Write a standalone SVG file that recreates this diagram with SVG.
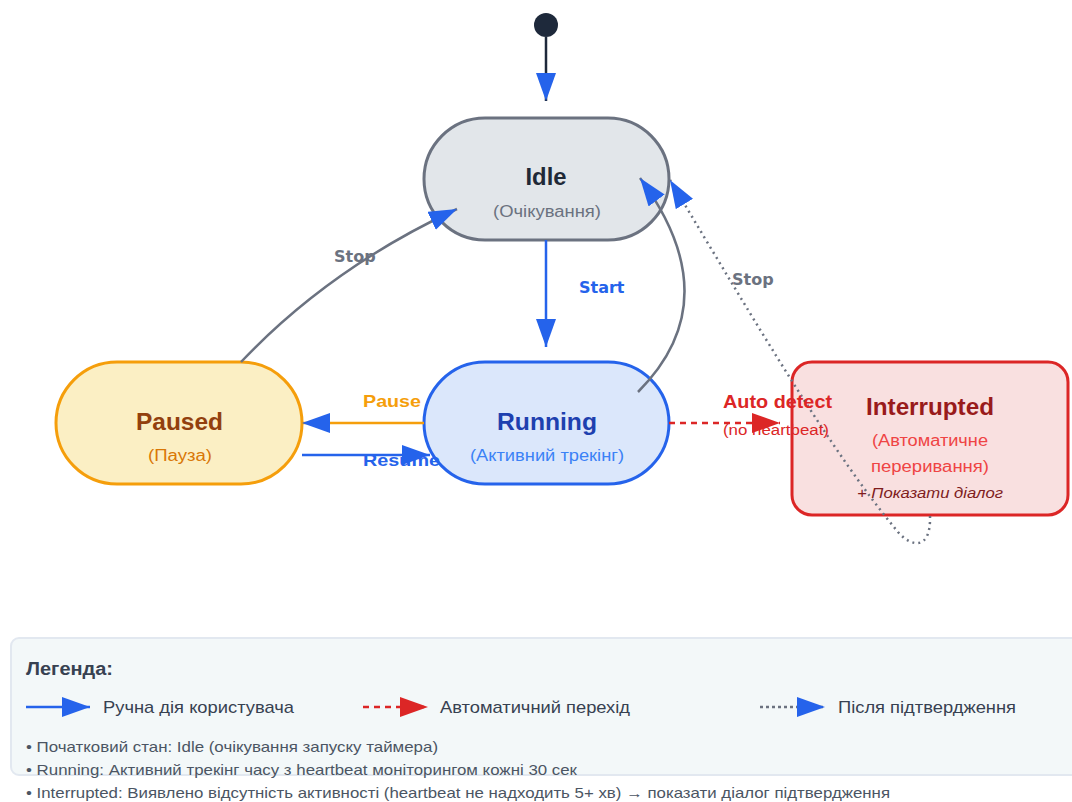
<svg xmlns="http://www.w3.org/2000/svg" width="1072" height="802" viewBox="0 0 1072 802">
  <style>
    .sans { font-family: "Liberation Sans", Arial, sans-serif; }
    .title { font-family: "Liberation Sans", Arial, sans-serif; font-weight: bold; font-size: 23px; text-anchor: middle; }
    .sub { font-family: "Liberation Sans", Arial, sans-serif; font-size: 16px; text-anchor: middle; }
    .elabel { font-family: "DejaVu Sans", Verdana, sans-serif; font-weight: bold; font-size: 16px; }
    .alabel { font-family: "Liberation Sans", Arial, sans-serif; font-weight: bold; font-size: 18px; }
    .legend-text { font-family: "Liberation Sans", Arial, sans-serif; font-size: 17px; fill: #374151; }
    .note { font-family: "Liberation Sans", Arial, sans-serif; font-size: 14.5px; fill: #4b5563; }
  </style>
  <defs>
    <marker id="arrowBlue" markerUnits="userSpaceOnUse" markerWidth="28" markerHeight="20" viewBox="0 0 28 20" refX="28" refY="10" orient="auto">
      <path d="M0,0 L28,10 L0,20 z" fill="#2563eb"/>
    </marker>
    <marker id="arrowRed" markerUnits="userSpaceOnUse" markerWidth="28" markerHeight="20" viewBox="0 0 28 20" refX="28" refY="10" orient="auto">
      <path d="M0,0 L28,10 L0,20 z" fill="#dc2626"/>
    </marker>
  </defs>

  <rect width="1072" height="802" fill="#ffffff"/>

  <!-- initial pseudo-state -->
  <g id="initial">
    <circle cx="546" cy="25" r="12" fill="#1e293b"/>
  </g>

  <!-- states -->
  <g id="idle">
    <rect x="424" y="118" width="245" height="122" rx="61" fill="#e2e6ea" stroke="#6b7280" stroke-width="3"/>
    <text class="title" x="546" y="185" fill="#1f2937" textLength="41" lengthAdjust="spacingAndGlyphs">Idle</text>
    <text class="sub" x="547" y="217" fill="#6b7280" textLength="108" lengthAdjust="spacingAndGlyphs">(Очікування)</text>
  </g>

  <g id="running">
    <rect x="424" y="362" width="245" height="122" rx="61" fill="#dbe7fb" stroke="#2563eb" stroke-width="3"/>
    <text class="title" x="547" y="430" fill="#1e40af" textLength="100" lengthAdjust="spacingAndGlyphs">Running</text>
    <text class="sub" x="547" y="461" fill="#3b82f6" textLength="154" lengthAdjust="spacingAndGlyphs">(Активний трекінг)</text>
  </g>

  <g id="paused">
    <rect x="56" y="362" width="246" height="122" rx="61" fill="#fbefc4" stroke="#f59e0b" stroke-width="3"/>
    <text class="title" x="179.5" y="430" fill="#92400e" textLength="87" lengthAdjust="spacingAndGlyphs">Paused</text>
    <text class="sub" x="180" y="461" fill="#d97706" textLength="64" lengthAdjust="spacingAndGlyphs">(Пауза)</text>
  </g>

  <g id="interrupted">
    <rect x="792" y="362" width="276" height="153" rx="20" fill="#f9e0e0" stroke="#dc2626" stroke-width="3"/>
    <text class="title" x="930" y="415" fill="#991b1b" textLength="128" lengthAdjust="spacingAndGlyphs">Interrupted</text>
    <text class="sub" x="930" y="446" fill="#ef4444" textLength="116" lengthAdjust="spacingAndGlyphs">(Автоматичне</text>
    <text class="sub" x="930" y="472" fill="#ef4444" textLength="118" lengthAdjust="spacingAndGlyphs">переривання)</text>
    <text class="sans" x="930" y="498" font-size="15" font-style="italic" fill="#7f1d1d" text-anchor="middle" textLength="146" lengthAdjust="spacingAndGlyphs">+ Показати діалог</text>
  </g>

  <!-- transitions -->
  <g id="connectors" fill="none">
    <line x1="546" y1="37" x2="546" y2="101" stroke="#1e293b" stroke-width="2.5" marker-end="url(#arrowBlue)"/>
    <!-- Idle -> Running -->
    <line x1="546" y1="240" x2="546" y2="347" stroke="#2563eb" stroke-width="2.5" marker-end="url(#arrowBlue)"/>
    <!-- Paused -> Idle -->
    <path d="M241,362 Q330,268 457,209" stroke="#6b7280" stroke-width="2.5" marker-end="url(#arrowBlue)"/>
    <!-- Running -> Idle -->
    <path d="M638,392 Q730,300 640,178" stroke="#6b7280" stroke-width="2.5" marker-end="url(#arrowBlue)"/>
    <!-- Interrupted -> Idle (after confirmation) -->
    <path d="M930,516 C931,550 912,548 898,532 C830,450 760,330 670,180" stroke="#6b7280" stroke-width="2.5" stroke-dasharray="2,4" marker-end="url(#arrowBlue)"/>
    <!-- Running -> Paused -->
    <line x1="424" y1="423" x2="302" y2="423" stroke="#f59e0b" stroke-width="2.5" marker-end="url(#arrowBlue)"/>
    <!-- Paused -> Running -->
    <line x1="302" y1="455" x2="430" y2="455" stroke="#2563eb" stroke-width="2.5" marker-end="url(#arrowBlue)"/>
    <!-- Running -> Interrupted -->
    <line x1="669" y1="423" x2="780" y2="423" stroke="#dc2626" stroke-width="2.5" stroke-dasharray="6,5" marker-end="url(#arrowRed)"/>
  </g>

  <!-- transition labels -->
  <g id="labels">
    <text class="elabel" x="334" y="262" fill="#6b7280">Stop</text>
    <text class="elabel" x="579" y="293" fill="#2563eb">Start</text>
    <text class="elabel" x="732" y="285" fill="#6b7280">Stop</text>
    <text class="sans" x="363" y="407" font-size="17" font-weight="bold" fill="#f59e0b" textLength="58" lengthAdjust="spacingAndGlyphs">Pause</text>
    <text class="sans" x="363" y="466" font-size="17" font-weight="bold" fill="#2563eb" textLength="77" lengthAdjust="spacingAndGlyphs">Resume</text>
    <text class="alabel" x="723" y="408" fill="#dc2626" textLength="109" lengthAdjust="spacingAndGlyphs">Auto detect</text>
    <text class="sans" x="723" y="435" font-size="14" fill="#dc2626" textLength="106" lengthAdjust="spacingAndGlyphs">(no heartbeat)</text>
  </g>

  <!-- legend -->
  <g id="legend">
    <rect x="11" y="638" width="1080" height="137" rx="8" fill="#f3f8f9" stroke="#e2e8f0" stroke-width="2"/>
    <text class="sans" x="26" y="675" font-size="18" font-weight="bold" fill="#374151" textLength="87" lengthAdjust="spacingAndGlyphs">Легенда:</text>
    <line x1="26" y1="707" x2="90" y2="707" stroke="#2563eb" stroke-width="2.5" marker-end="url(#arrowBlue)"/>
    <text class="legend-text" x="103" y="713" textLength="191" lengthAdjust="spacingAndGlyphs">Ручна дія користувача</text>
    <line x1="363" y1="707" x2="428" y2="707" stroke="#dc2626" stroke-width="2.5" stroke-dasharray="6,5" marker-end="url(#arrowRed)"/>
    <text class="legend-text" x="440" y="713" textLength="190" lengthAdjust="spacingAndGlyphs">Автоматичний перехід</text>
    <line x1="760" y1="707" x2="825" y2="707" stroke="#6b7280" stroke-width="2.5" stroke-dasharray="3,3" marker-end="url(#arrowBlue)"/>
    <text class="legend-text" x="838" y="713" textLength="178" lengthAdjust="spacingAndGlyphs">Після підтвердження</text>
    <text class="note" x="26" y="752" textLength="412" lengthAdjust="spacingAndGlyphs">• Початковий стан: Idle (очікування запуску таймера)</text>
    <text class="note" x="26" y="775" textLength="551" lengthAdjust="spacingAndGlyphs">• Running: Активний трекінг часу з heartbeat моніторингом кожні 30 сек</text>
    <text class="note" x="26" y="798" textLength="864" lengthAdjust="spacingAndGlyphs">• Interrupted: Виявлено відсутність активності (heartbeat не надходить 5+ хв) → показати діалог підтвердження</text>
  </g>
</svg>
